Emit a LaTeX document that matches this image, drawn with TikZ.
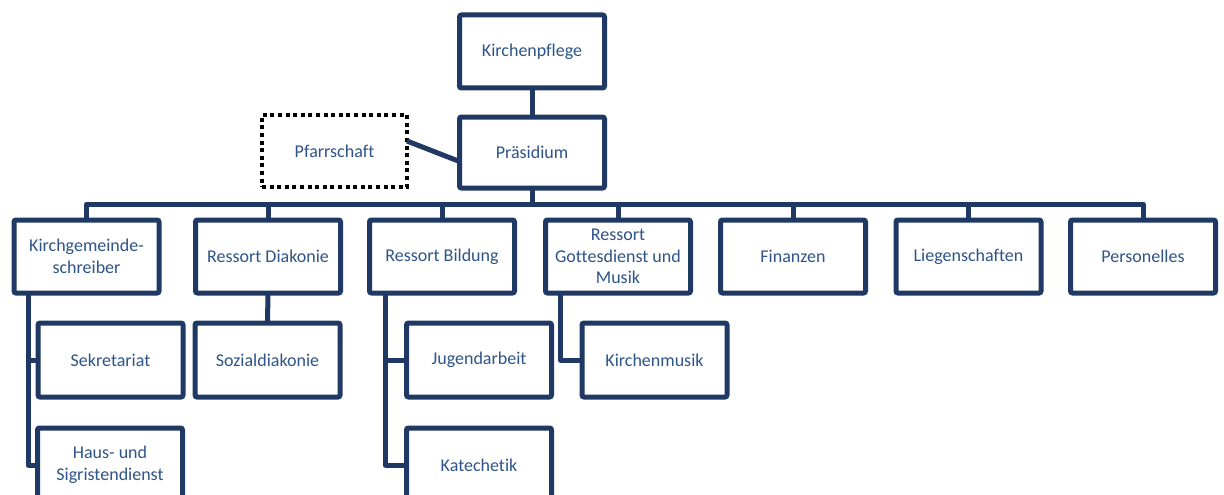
\documentclass[tikz,border=0pt]{standalone}
\usepackage{fontspec}
\setmainfont{Carlito}[Ligatures={NoCommon}]
\usepackage{xcolor}
\definecolor{orgline}{HTML}{1F3864}
\definecolor{orgtext}{HTML}{2E5489}

\begin{document}
\begin{tikzpicture}[x=1pt, y=-1pt,
	box/.style={draw=orgline, line width=5pt, rounded corners=2pt, outer sep=0pt, fill=white,
		minimum width=145pt, minimum height=73pt, align=center, text=orgtext,
		font=\fontsize{18}{21.5}\selectfont},
	dotbox/.style={box, draw=black, line width=4.5pt, rounded corners=0pt, dash pattern=on 4pt off 3.6pt},
	link/.style={draw=orgline, line width=5pt, line join=round}]
	\clip (0,0) rectangle (1224,495);
	\node[box] (kp) at (532,51.5) {Kirchenpflege};
	\node[box, minimum height=71pt] (pr) at (532,152.5) {Präsidium};
	\node[dotbox, minimum height=72pt] (pf) at (334.5,151) {Pfarrschaft};
	\coordinate (bus) at (0,204);
	\node[box] (kgs) at (86.5,256.5) {Kirchgemeinde-\\schreiber};
	\node[box] (rd) at (268,256.5) {Ressort Diakonie};
	\node[box] (rb) at (442,256.5) {Ressort Bildung};
	\node[box] (rg) at (618,256.5) {Ressort\\Gottesdienst und\\Musik};
	\node[box] (fi) at (793,256.5) {Finanzen};
	\node[box] (li) at (968.5,256.5) {Liegenschaften};
	\node[box] (pe) at (1143,256.5) {Personelles};
	\node[box, minimum height=74pt] (sek) at (110.5,360) {Sekretariat};
	\node[box, minimum height=74pt] (soz) at (267.5,360) {Sozialdiakonie};
	\node[box, minimum height=74pt] (jug) at (479,360) {Jugendarbeit};
	\node[box, minimum height=74pt] (km) at (654.5,360) {Kirchenmusik};
	\node[box, minimum height=74pt] (haus) at (110,465) {Haus- und\\Sigristendienst};
	\node[box, minimum height=74pt] (kat) at (479,465) {Katechetik};
	\draw[link] (kp.south) -- (pr.north);
	\draw[link] ([yshift=10pt]pf.east) -- ([yshift=-9pt]pr.west);
	\foreach \n in {kgs,rd,rb,rg,fi,li,pe}
		\draw[link] (pr.south) -- (pr.south |- bus) -| (\n.north);
	\draw[link] ([xshift=14pt]kgs.south west) |- (sek.west);
	\draw[link] ([xshift=14pt]kgs.south west) |- (haus.west);
	\draw[link] (rd.south) -- (soz.north);
	\draw[link] ([xshift=16pt]rb.south west) |- (jug.west);
	\draw[link] ([xshift=16pt]rb.south west) |- (kat.west);
	\draw[link] ([xshift=15pt]rg.south west) |- (km.west);
\end{tikzpicture}
\end{document}
